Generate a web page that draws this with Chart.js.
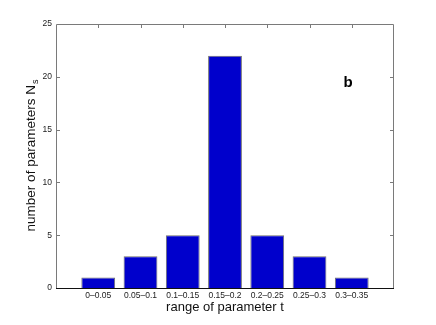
<!DOCTYPE html>
<html>
<head>
<meta charset="utf-8">
<script src="https://cdn.jsdelivr.net/npm/chart.js@4"></script>
<style>
  html, body { margin: 0; padding: 0; background: #fff; }
  #wrap { width: 436px; height: 325px; }
</style>
</head>
<body>
<div id="wrap"><canvas id="c" width="436" height="325"></canvas></div>
<script>
  /* --- Data --- */
  var RANGES = ["", "0\u20130.05", "0.05\u20130.1", "0.1\u20130.15", "0.15\u20130.2",
    "0.2\u20130.25", "0.25\u20130.3", "0.3\u20130.35", ""];
  var COUNTS = [null, 1, 3, 5, 22, 5, 3, 1, null];
  var Y_MIN = 0;
  var Y_MAX = 25;
  var Y_STEP = 5;
  var X_TITLE = "range of parameter t";
  var Y_TITLE = "number of parameters N";
  var Y_TITLE_SUB = "s";
  var PANEL = "b";

  var FONT = '"Liberation Sans", Arial, Helvetica, sans-serif';

  /* box, inward ticks, titles and panel letter */
  var matlabAxes = {
    id: "matlabAxes",
    afterDraw: function (chart) {
      var ctx = chart.ctx;
      var a = chart.chartArea;
      var xs = chart.scales.x;
      var ys = chart.scales.y;
      var i, p;
      ctx.save();
      ctx.lineWidth = 1;
      ctx.strokeStyle = "#7a7a7a";
      ctx.beginPath();
      ctx.moveTo(a.left + 0.5, a.bottom);
      ctx.lineTo(a.left + 0.5, a.top + 0.5);
      ctx.lineTo(a.right - 0.5, a.top + 0.5);
      ctx.lineTo(a.right - 0.5, a.bottom);
      // inward ticks
      for (i = 1; i < xs.ticks.length - 1; i++) {
        p = Math.round(xs.getPixelForTick(i)) + 0.5;
        ctx.moveTo(p, a.top);
        ctx.lineTo(p, a.top + 4);
      }
      for (i = 1; i < ys.ticks.length - 1; i++) {
        p = Math.round(ys.getPixelForTick(i)) + 0.5;
        ctx.moveTo(a.left, p);
        ctx.lineTo(a.left + 4, p);
        ctx.moveTo(a.right, p);
        ctx.lineTo(a.right - 4, p);
      }
      ctx.stroke();
      ctx.strokeStyle = "#111";
      ctx.beginPath();
      ctx.moveTo(a.left, a.bottom + 0.5);
      ctx.lineTo(a.right, a.bottom + 0.5);
      ctx.stroke();

      ctx.fillStyle = "#111";
      ctx.textBaseline = "middle";
      ctx.textAlign = "center";
      ctx.font = "13px " + FONT;
      ctx.fillText(X_TITLE, (a.left + a.right) / 2, 307);

      // y title with subscript
      ctx.translate(31, (a.top + a.bottom) / 2);
      ctx.rotate(-Math.PI / 2);
      ctx.font = "13.5px " + FONT;
      var w1 = ctx.measureText(Y_TITLE).width;
      ctx.font = "9px " + FONT;
      var w2 = ctx.measureText(Y_TITLE_SUB).width;
      var x0 = -(w1 + w2) / 2;
      ctx.textAlign = "left";
      ctx.font = "13.5px " + FONT;
      ctx.fillText(Y_TITLE, x0, 0);
      ctx.font = "9px " + FONT;
      ctx.fillText(Y_TITLE_SUB, x0 + w1 + 1, 5);
      ctx.restore();

      ctx.save();
      ctx.fillStyle = "#000";
      ctx.font = "bold 15px " + FONT;
      ctx.textAlign = "center";
      ctx.textBaseline = "middle";
      ctx.fillText(PANEL, 348, 83);
      ctx.restore();
    }
  };

  new Chart(document.getElementById("c"), {
    type: "bar",
    data: {
      labels: RANGES,
      datasets: [{
        data: COUNTS,
        backgroundColor: "#0000cc",
        borderColor: "#6e6e6e",
        borderWidth: 1,
        barPercentage: 0.8,
        categoryPercentage: 1
      }]
    },
    options: {
      responsive: false,
      animation: false,
      layout: { padding: { left: 0, right: 42, top: 24, bottom: 0 } },
      plugins: { legend: { display: false }, tooltip: { enabled: false } },
      scales: {
        x: {
          type: "category",
          offset: false,
          grid: { display: false, drawTicks: false },
          border: { display: false },
          ticks: {
            autoSkip: false,
            maxRotation: 0,
            padding: 3,
            color: "#222",
            font: { size: 8.5, family: FONT }
          },
          afterFit: function (s) { s.height = 37; }
        },
        y: {
          min: Y_MIN,
          max: Y_MAX,
          grid: { display: false, drawTicks: false },
          border: { display: false },
          ticks: {
            stepSize: Y_STEP,
            padding: 4,
            color: "#222",
            font: { size: 8.5, family: FONT }
          },
          afterFit: function (s) { s.width = 56; }
        }
      }
    },
    plugins: [matlabAxes]
  });
</script>
</body>
</html>
